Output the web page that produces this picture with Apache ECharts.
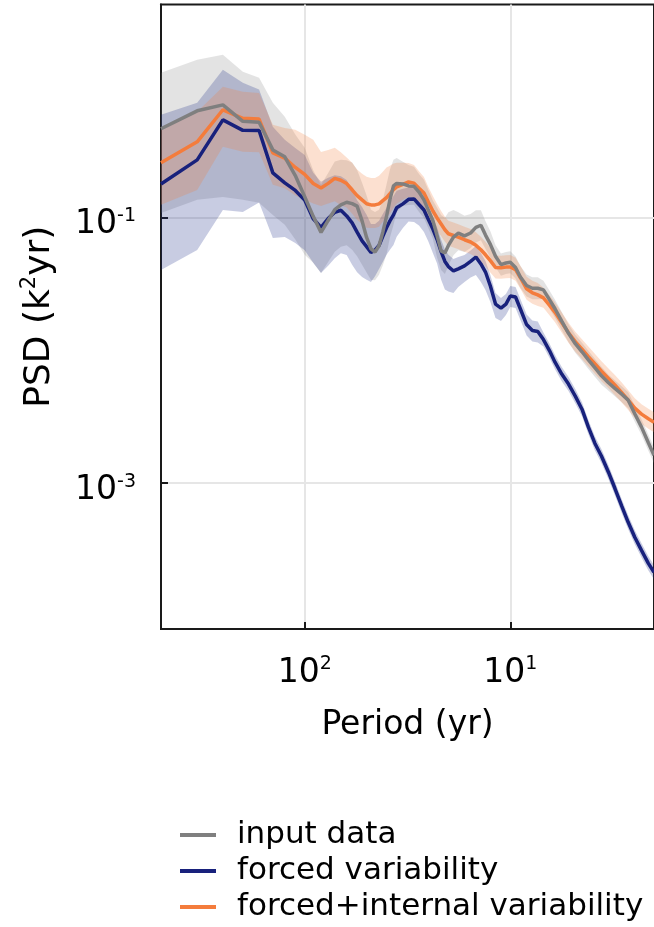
<!DOCTYPE html>
<html>
<head>
<meta charset="utf-8">
<script src="https://cdn.jsdelivr.net/npm/echarts@6/dist/echarts.min.js"></script>
<style>
  html, body { margin: 0; padding: 0; background: #ffffff; }
  #chart { width: 654px; height: 927px; }
</style>
</head>
<body>
<div id="chart"></div>
<script>
// Spectral estimates: period grid in years (uniform frequency steps)
const periods = [500, 333.3, 250, 200, 166.7, 142.9, 125, 111.1, 100, 90.9,
  83.3, 76.9, 71.4, 66.7, 62.5, 58.8, 55.6, 52.6, 50, 47.6,
  45.5, 43.5, 41.7, 40, 38.5, 37, 35.7, 33.3, 31.25, 29.4,
  27.8, 26.3, 25, 23.8, 22.7, 21.7, 20.8, 20, 18.9, 17.9,
  16.7, 15.6, 14.7, 13.9, 13.2, 12.5, 11.8, 11.1, 10.5, 10,
  9.43, 8.93, 8.33, 7.81, 7.35, 6.9, 6.45, 6.06, 5.62, 5.21,
  4.83, 4.48, 4.17, 3.88, 3.6, 3.33, 3.1, 2.87, 2.67, 2.48,
  2.3, 2.13, 2.0];

// log10 of the power spectral density (K^2 yr)
const inputLog10 = [-0.333, -0.198, -0.153, -0.277, -0.284, -0.492, -0.544, -0.685, -0.844, -0.992,
  -1.113, -1.023, -0.942, -0.905, -0.886, -0.896, -0.915, -1.026, -1.151, -1.236,
  -1.261, -1.213, -1.111, -0.993, -0.866, -0.763, -0.744, -0.748, -0.763, -0.766,
  -0.809, -0.868, -0.947, -1.024, -1.138, -1.252, -1.267, -1.211, -1.148, -1.119,
  -1.139, -1.117, -1.075, -1.059, -1.133, -1.203, -1.292, -1.355, -1.343, -1.338,
  -1.377, -1.448, -1.512, -1.533, -1.533, -1.545, -1.618, -1.687, -1.780, -1.872,
  -1.950, -2.011, -2.072, -2.131, -2.192, -2.244, -2.286, -2.330, -2.375, -2.477,
  -2.578, -2.695, -2.789];

const forcedLog10 = [-0.748, -0.567, -0.266, -0.345, -0.346, -0.665, -0.740, -0.797, -0.870, -1.010,
  -1.075, -1.009, -0.961, -0.946, -0.989, -1.041, -1.111, -1.177, -1.220, -1.264,
  -1.246, -1.211, -1.143, -1.078, -1.026, -0.981, -0.928, -0.898, -0.864, -0.861,
  -0.903, -0.944, -1.017, -1.087, -1.166, -1.258, -1.331, -1.370, -1.403, -1.387,
  -1.365, -1.331, -1.298, -1.350, -1.411, -1.516, -1.652, -1.682, -1.652, -1.591,
  -1.599, -1.689, -1.806, -1.851, -1.859, -1.919, -2.002, -2.089, -2.179, -2.254,
  -2.345, -2.443, -2.578, -2.699, -2.797, -2.917, -3.038, -3.173, -3.294, -3.407,
  -3.505, -3.603, -3.670];

const forcedInternalLog10 = [-0.589, -0.431, -0.190, -0.254, -0.260, -0.514, -0.554, -0.624, -0.676, -0.745,
  -0.778, -0.744, -0.706, -0.720, -0.745, -0.792, -0.836, -0.868, -0.897, -0.906,
  -0.906, -0.898, -0.874, -0.851, -0.822, -0.791, -0.770, -0.751, -0.733, -0.742,
  -0.780, -0.817, -0.886, -0.952, -1.004, -1.050, -1.093, -1.123, -1.136, -1.149,
  -1.168, -1.185, -1.210, -1.243, -1.281, -1.325, -1.377, -1.379, -1.374, -1.373,
  -1.393, -1.454, -1.537, -1.567, -1.583, -1.605, -1.661, -1.714, -1.791, -1.868,
  -1.935, -1.991, -2.047, -2.101, -2.157, -2.211, -2.261, -2.318, -2.375, -2.435,
  -2.480, -2.515, -2.541];

// Uncertainty envelopes: distance (in decades) above / below each estimate
const inputSpreadUp = [0.422, 0.384, 0.377, 0.373, 0.335, 0.354, 0.301, 0.309, 0.369, 0.347,
  0.358, 0.358, 0.362, 0.339, 0.316, 0.309, 0.271, 0.286, 0.316, 0.294,
  0.301, 0.271, 0.241, 0.241, 0.226, 0.196, 0.192, 0.166, 0.158, 0.147,
  0.136, 0.151, 0.151, 0.151, 0.211, 0.271, 0.264, 0.249, 0.203, 0.158,
  0.151, 0.143, 0.128, 0.113, 0.105, 0.098, 0.083, 0.083, 0.083, 0.083,
  0.083, 0.083, 0.083, 0.083, 0.083, 0.068, 0.068, 0.068, 0.068, 0.068,
  0.068, 0.068, 0.068, 0.068, 0.068, 0.060, 0.060, 0.060, 0.060, 0.060,
  0.060, 0.060, 0.060];
const inputSpreadDown = [0.633, 0.670, 0.693, 0.591, 0.606, 0.490, 0.512, 0.482, 0.437, 0.350,
  0.305, 0.312, 0.316, 0.316, 0.324, 0.347, 0.377, 0.331, 0.264, 0.234,
  0.211, 0.218, 0.249, 0.286, 0.286, 0.294, 0.215, 0.166, 0.143, 0.139,
  0.151, 0.136, 0.136, 0.136, 0.166, 0.143, 0.158, 0.151, 0.136, 0.128,
  0.121, 0.113, 0.113, 0.113, 0.105, 0.098, 0.083, 0.083, 0.083, 0.083,
  0.083, 0.083, 0.083, 0.083, 0.083, 0.068, 0.068, 0.068, 0.068, 0.068,
  0.068, 0.068, 0.068, 0.068, 0.068, 0.060, 0.060, 0.060, 0.060, 0.060,
  0.060, 0.060, 0.060];

const forcedSpreadUp = [0.520, 0.429, 0.377, 0.358, 0.309, 0.347, 0.324, 0.320, 0.339, 0.347,
  0.343, 0.307, 0.279, 0.256, 0.271, 0.249, 0.241, 0.256, 0.241, 0.215,
  0.196, 0.185, 0.169, 0.151, 0.143, 0.143, 0.128, 0.113, 0.090, 0.090,
  0.090, 0.090, 0.090, 0.090, 0.090, 0.090, 0.090, 0.090, 0.090, 0.090,
  0.083, 0.083, 0.083, 0.083, 0.083, 0.083, 0.083, 0.075, 0.075, 0.075,
  0.075, 0.075, 0.075, 0.075, 0.075, 0.053, 0.053, 0.053, 0.053, 0.053,
  0.053, 0.053, 0.053, 0.053, 0.053, 0.053, 0.053, 0.053, 0.053, 0.053,
  0.053, 0.053, 0.053];
const forcedSpreadDown = [0.648, 0.678, 0.678, 0.614, 0.542, 0.490, 0.407, 0.395, 0.377, 0.331,
  0.343, 0.354, 0.347, 0.324, 0.294, 0.316, 0.301, 0.271, 0.249, 0.222,
  0.196, 0.177, 0.192, 0.203, 0.218, 0.226, 0.218, 0.181, 0.166, 0.173,
  0.158, 0.166, 0.166, 0.181, 0.181, 0.211, 0.211, 0.188, 0.166, 0.136,
  0.121, 0.121, 0.136, 0.136, 0.136, 0.121, 0.105, 0.098, 0.083, 0.083,
  0.083, 0.083, 0.083, 0.083, 0.083, 0.053, 0.053, 0.053, 0.053, 0.053,
  0.053, 0.053, 0.053, 0.053, 0.053, 0.053, 0.053, 0.053, 0.053, 0.053,
  0.053, 0.053, 0.053];

const forcedInternalSpreadUp = [0.249, 0.226, 0.173, 0.200, 0.196, 0.211, 0.226, 0.283, 0.298, 0.329,
  0.271, 0.252, 0.230, 0.211, 0.196, 0.203, 0.196, 0.196, 0.203, 0.203,
  0.203, 0.211, 0.218, 0.226, 0.211, 0.196, 0.181, 0.162, 0.143, 0.136,
  0.128, 0.121, 0.113, 0.113, 0.105, 0.098, 0.098, 0.098, 0.098, 0.098,
  0.098, 0.098, 0.098, 0.098, 0.098, 0.098, 0.090, 0.090, 0.090, 0.090,
  0.090, 0.090, 0.090, 0.090, 0.090, 0.075, 0.075, 0.075, 0.075, 0.075,
  0.075, 0.075, 0.075, 0.075, 0.075, 0.075, 0.075, 0.075, 0.075, 0.075,
  0.075, 0.075, 0.075];
const forcedInternalSpreadDown = [0.316, 0.362, 0.279, 0.252, 0.249, 0.241, 0.226, 0.211, 0.192, 0.151,
  0.136, 0.151, 0.173, 0.188, 0.181, 0.181, 0.181, 0.181, 0.181, 0.173,
  0.173, 0.173, 0.158, 0.151, 0.151, 0.136, 0.128, 0.117, 0.113, 0.113,
  0.105, 0.105, 0.105, 0.105, 0.098, 0.090, 0.090, 0.090, 0.090, 0.090,
  0.090, 0.090, 0.090, 0.090, 0.090, 0.090, 0.083, 0.083, 0.083, 0.083,
  0.083, 0.083, 0.083, 0.083, 0.083, 0.075, 0.075, 0.075, 0.075, 0.075,
  0.075, 0.075, 0.075, 0.075, 0.075, 0.075, 0.075, 0.075, 0.075, 0.075,
  0.075, 0.075, 0.075];

// Axis tick positions
const periodTicks = [100, 10];
const psdTicks = [0.1, 0.001];

const seriesNames = ['input data', 'forced variability', 'forced+internal variability'];
const colors = { input: '#7f7f7f', forced: '#18217c', forcedInternal: '#f47c3c' };

const FONT = '"DejaVu Sans", "Liberation Sans", sans-serif';

function curve(logs) {
  return periods.map((p, i) => [p, Math.pow(10, logs[i])]);
}

function envelope(name, logs, up, down, fill) {
  return {
    type: 'custom',
    name: name,
    silent: true,
    z: 1,
    data: [[periods[0], Math.pow(10, logs[0])]],
    renderItem: function (params, api) {
      const pts = [];
      for (let i = 0; i < periods.length; i++) {
        pts.push(api.coord([periods[i], Math.pow(10, logs[i] + up[i])]));
      }
      for (let i = periods.length - 1; i >= 0; i--) {
        pts.push(api.coord([periods[i], Math.pow(10, logs[i] - down[i])]));
      }
      return { type: 'polygon', shape: { points: pts }, style: { fill: fill } };
    }
  };
}

function line(name, logs, color) {
  return {
    type: 'line',
    name: name,
    data: curve(logs),
    symbol: 'none',
    showSymbol: false,
    z: 3,
    lineStyle: { color: color, width: 3.5 },
    itemStyle: { color: color }
  };
}

function powerLabel(v) {
  const e = Math.round(Math.log10(v));
  return '{b|10}{s|' + e + '}';
}

const tickRich = {
  b: { fontFamily: FONT, fontSize: 33, lineHeight: 36, color: '#000' },
  s: { fontFamily: FONT, fontSize: 19, lineHeight: 14, verticalAlign: 'top', color: '#000' }
};

const axisDark = { color: '#1a1a1a', width: 2 };
const gridLine = { color: '#e6e6e6', width: 2 };

const chart = echarts.init(document.getElementById('chart'), null, { renderer: 'canvas' });

chart.setOption({
  animation: false,
  backgroundColor: '#ffffff',
  grid: {
    left: 161, right: -5.8, top: 4.5, bottom: 298,
    show: true, borderColor: '#1a1a1a', borderWidth: 2, backgroundColor: 'transparent'
  },
  legend: {
    orient: 'vertical',
    left: 180,
    top: 817,
    padding: 0,
    itemGap: 0,
    itemWidth: 36,
    itemHeight: 4,
    icon: 'rect',
    selectedMode: false,
    data: seriesNames,
    textStyle: { fontFamily: FONT, fontSize: 31, lineHeight: 36, color: '#000', padding: [0, 0, 0, 16] }
  },
  xAxis: {
    type: 'log',
    logBase: 10,
    inverse: true,
    min: 2,
    max: 500,
    axisLine: { show: true, onZero: false, lineStyle: axisDark },
    axisTick: { show: true, inside: true, length: 7, customValues: periodTicks, lineStyle: axisDark },
    minorTick: { show: false },
    axisLabel: { customValues: periodTicks, margin: 26, formatter: powerLabel, rich: tickRich },
    splitLine: { show: true, lineStyle: gridLine },
    name: 'Period (yr)',
    nameLocation: 'middle',
    nameGap: 76,
    nameTextStyle: { fontFamily: FONT, fontSize: 33, lineHeight: 40, color: '#000' }
  },
  yAxis: {
    type: 'log',
    logBase: 10,
    min: 8e-5,
    max: 4,
    axisLine: { show: true, onZero: false, lineStyle: axisDark },
    axisTick: { show: true, inside: true, length: 7, customValues: psdTicks, lineStyle: axisDark },
    minorTick: { show: false },
    axisLabel: { customValues: psdTicks, margin: 25, formatter: powerLabel, rich: tickRich, padding: [14, 0, 0, 0] },
    splitLine: { show: true, lineStyle: gridLine },
    name: '{a|PSD (k}{s|2}{a|yr)}',
    nameLocation: 'middle',
    nameGap: 100,
    nameTextStyle: {
      rich: {
        a: { fontFamily: FONT, fontSize: 36, lineHeight: 42, color: '#000' },
        s: { fontFamily: FONT, fontSize: 21, lineHeight: 16, verticalAlign: 'top', color: '#000' }
      }
    }
  },
  series: [
    envelope('input data range', inputLog10, inputSpreadUp, inputSpreadDown, 'rgba(128,128,128,0.22)'),
    envelope('forced variability range', forcedLog10, forcedSpreadUp, forcedSpreadDown, 'rgba(27,42,133,0.24)'),
    envelope('forced+internal variability range', forcedInternalLog10, forcedInternalSpreadUp, forcedInternalSpreadDown, 'rgba(244,124,60,0.24)'),
    line('forced variability', forcedLog10, colors.forced),
    line('forced+internal variability', forcedInternalLog10, colors.forcedInternal),
    line('input data', inputLog10, colors.input)
  ]
});
</script>
</body>
</html>
